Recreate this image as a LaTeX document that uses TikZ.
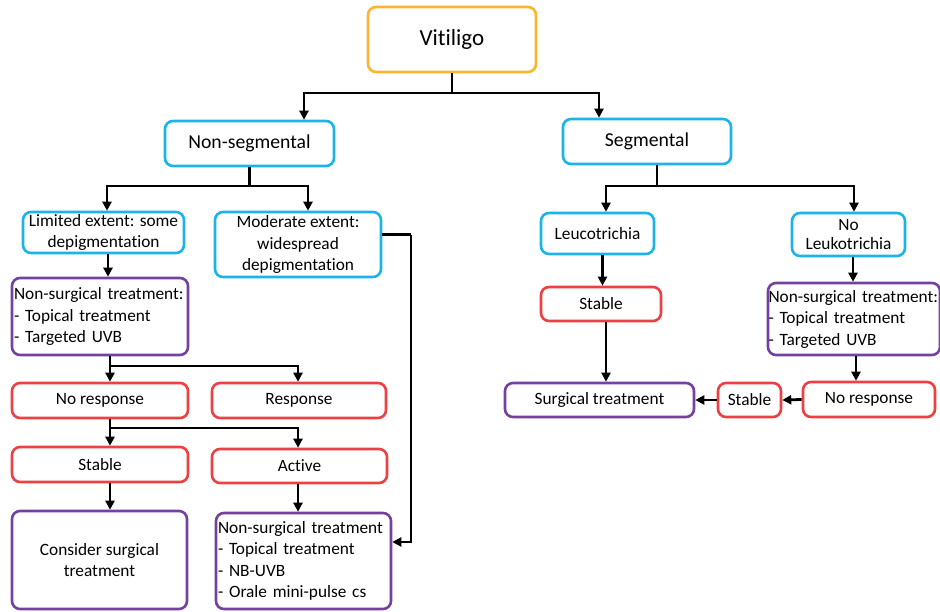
\documentclass[tikz,border=0pt]{standalone}
\usepackage{fontspec}
\setmainfont{Carlito}[Ligatures=NoCommon]
\usetikzlibrary{arrows.meta}
\definecolor{cOrange}{HTML}{FBB631}
\definecolor{cCyan}{HTML}{1CB3EA}
\definecolor{cRed}{HTML}{EC4043}
\definecolor{cPurple}{HTML}{7541A0}
\tikzset{
  bx/.style={draw, line width=2.6pt, rounded corners=8pt, inner sep=2pt, align=center,
    font=\fontsize{17.3}{21.5}\selectfont, fill=white},
  cyanbox/.style={bx, draw=cCyan},
  redbox/.style={bx, draw=cRed},
  purplebox/.style={bx, draw=cPurple},
  orangebox/.style={bx, draw=cOrange},
  lnk/.style={line width=2.8pt, black},
  arr/.style={lnk, -{Triangle[length=9pt,width=9pt]}},
}
\begin{document}
\begin{tikzpicture}[x=1pt,y=-1pt]
\useasboundingbox (0,0) rectangle (940,611);
% nodes
\node[orangebox, minimum width=168, minimum height=65, font=\fontsize{23}{27}\selectfont] (vit) at (452,39.5) {Vitiligo};
\node[cyanbox, minimum width=169, minimum height=45, font=\fontsize{19.7}{23}\selectfont] (nonseg) at (249.5,143.5) {Non-segmental};
\node[cyanbox, minimum width=168, minimum height=45, font=\fontsize{19.7}{23}\selectfont] (seg) at (647,141.5) {Segmental};
\node[cyanbox, minimum width=161, minimum height=41] (lim) at (103.5,232.5) {Limited extent: some\\depigmentation};
\node[cyanbox, minimum width=166, minimum height=65] (mod) at (298,244.5) {Moderate extent:\\widespread\\depigmentation};
\node[purplebox, minimum width=176, minimum height=77, text width=172, align=left] (ns1) at (100,316.5) {Non-surgical treatment:\\- Topical treatment\\- Targeted UVB};
\node[redbox, minimum width=176, minimum height=35] (nr1) at (100,400.5) {No response};
\node[redbox, minimum width=174, minimum height=35] (resp) at (299,400.5) {Response};
\node[redbox, minimum width=176, minimum height=35] (st1) at (100,464.5) {Stable};
\node[redbox, minimum width=175, minimum height=34] (act) at (299.5,466) {Active};
\node[purplebox, minimum width=175, minimum height=98] (cons) at (99.5,560) {Consider surgical\\treatment};
\node[purplebox, minimum width=173, minimum height=96, text width=171, align=left] (ns2) at (303.5,561) {Non-surgical treatment\\- Topical treatment\\- NB-UVB\\- Orale mini-pulse cs};
\node[cyanbox, minimum width=113, minimum height=41] (leu) at (597.5,233.5) {Leucotrichia};
\node[cyanbox, minimum width=113, minimum height=43] (noleu) at (848.5,234.5) {No\\[-3pt]Leukotrichia};
\node[redbox, minimum width=120, minimum height=34] (st2) at (601,304) {Stable};
\node[purplebox, minimum width=189, minimum height=34] (surg) at (599.5,400) {Surgical treatment};
\node[purplebox, minimum width=172, minimum height=72, text width=171, align=left, inner sep=0.5pt] (ns3) at (854,319) {Non-surgical treatment:\\- Topical treatment\\- Targeted UVB};
\node[redbox, minimum width=132, minimum height=35] (nr2) at (869,399.5) {No response};
\node[redbox, minimum width=63, minimum height=34, inner sep=0pt] (st3) at (749.5,400) {Stable};
% junctions
\coordinate (j1) at (452,93);
\coordinate (j2) at (249.5,186);
\coordinate (j3) at (657,186);
\coordinate (j4) at (110,366);
\coordinate (j5) at (110,428);
\coordinate (j6) at (411,234.5);
% connectors
\draw[lnk] (vit.south) -- (j1);
\draw[arr] (j1) -| ([xshift=54.5pt]nonseg.north);
\draw[arr] (j1) -| ([xshift=-48pt]seg.north);
\draw[lnk] (nonseg.south) -- (j2);
\draw[arr] (j2) -| ([xshift=3.5pt]lim.north);
\draw[arr] (j2) -| ([xshift=10pt]mod.north);
\draw[lnk] ([xshift=10pt]seg.south) -- (j3);
\draw[arr] (j3) -| ([xshift=8.5pt]leu.north);
\draw[arr] (j3) -| ([xshift=5.5pt]noleu.north);
\draw[arr] ([xshift=4.5pt]lim.south) -- ([xshift=4.5pt]lim.south |- ns1.north);
\draw[lnk] (ns1.south -| j4) -- (j4);
\draw[arr] (j4) -- (j4 |- nr1.north);
\draw[arr] (j4) -| ([xshift=-1pt]resp.north);
\draw[lnk] (nr1.south -| j5) -- (j5);
\draw[arr] (j5) -- (j5 |- st1.north);
\draw[arr] (j5) -| ([xshift=-1.5pt]act.north);
\draw[arr] (st1.south -| j5) -- (j5 |- cons.north);
\draw[arr] ([xshift=-1.5pt]act.south) -- ([xshift=-1.5pt]act.south |- ns2.north);
\draw[lnk] ([yshift=10pt]mod.east) -- (j6);
\draw[arr] (j6) |- ([yshift=19pt]ns2.east);
\draw[arr] ([xshift=5pt]leu.south) -- ([xshift=5pt]leu.south |- st2.north);
\draw[arr] ([xshift=5pt]st2.south) -- ([xshift=5pt]st2.south |- surg.north);
\draw[arr] ([xshift=4.5pt]noleu.south) -- ([xshift=4.5pt]noleu.south |- ns3.north);
\draw[arr] ([xshift=2pt]ns3.south) -- ([xshift=2pt]ns3.south |- nr2.north);
\draw[arr] (nr2.west) -- (st3.east);
\draw[arr] (st3.west) -- (surg.east);
\end{tikzpicture}
\end{document}
